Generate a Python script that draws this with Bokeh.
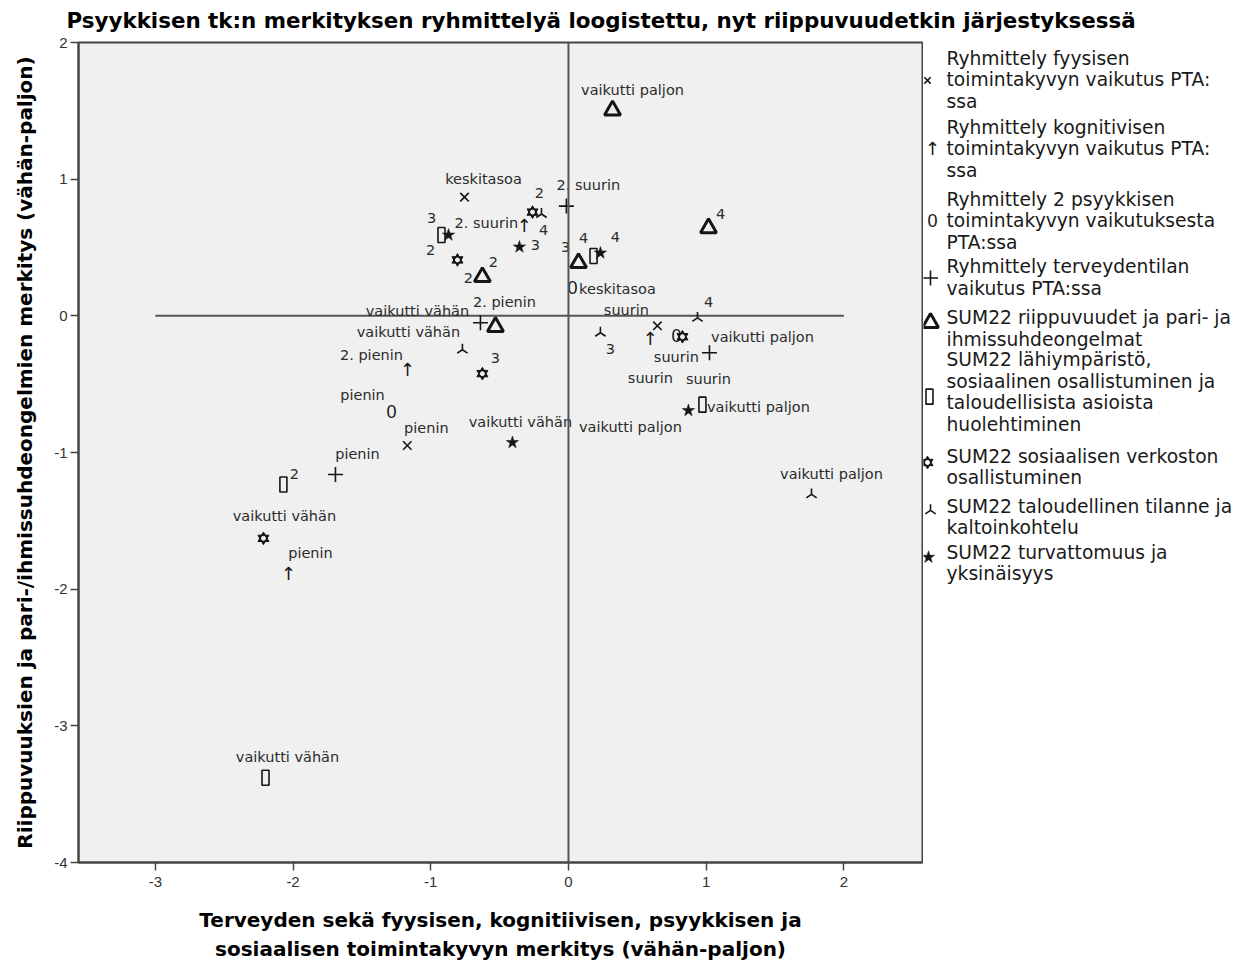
import math
from bokeh.plotting import figure
from bokeh.models import Range1d, FixedTicker, Span, ColumnDataSource, CustomJSTickFormatter, Title
from bokeh.layouts import column, row
from bokeh.embed import file_html
from bokeh.resources import INLINE
from bokeh.core.properties import value

# ---------------- data ----------------
title_text = "Psyykkisen tk:n merkityksen ryhmittelyä loogistettu, nyt riippuvuudetkin järjestyksessä"
x_label_lines = ["Terveyden sekä fyysisen, kognitiivisen, psyykkisen ja",
                 "sosiaalisen toimintakyvyn merkitys (vähän-paljon)"]
y_label = "Riippuvuuksien ja pari-/ihmissuhdeongelmien merkitys (vähän-paljon)"
x_ticks = [-3, -2, -1, 0, 1, 2]
y_ticks = [-4, -3, -2, -1, 0, 1, 2]

legend_texts = [
    ["Ryhmittely fyysisen", "toimintakyvyn vaikutus PTA:", "ssa"],
    ["Ryhmittely kognitivisen", "toimintakyvyn vaikutus PTA:", "ssa"],
    ["Ryhmittely 2 psyykkisen", "toimintakyvyn vaikutuksesta", "PTA:ssa"],
    ["Ryhmittely terveydentilan", "vaikutus PTA:ssa"],
    ["SUM22 riippuvuudet ja pari- ja", "ihmissuhdeongelmat"],
    ["SUM22 lähiympäristö,", "sosiaalinen osallistuminen ja", "taloudellisista asioista", "huolehtiminen"],
    ["SUM22 sosiaalisen verkoston", "osallistuminen"],
    ["SUM22 taloudellinen tilanne ja", "kaltoinkohtelu"],
    ["SUM22 turvattomuus ja", "yksinäisyys"],
]

fyys_labels = ["pienin", "keskitasoa", "suurin"]
fyys_x = [-1.17, -0.755, 0.646]
fyys_y = [-0.949, 0.869, -0.073]

kogn_labels = ["pienin", "2. pienin", "2. suurin", "suurin"]
kogn_x = [-2.033, -1.169, -0.320, 0.595]
kogn_y = [-1.883, -0.394, 0.664, -0.168]

psyk_labels = ["pienin", "keskitasoa", "suurin"]
psyk_x = [-1.285, 0.029, 0.784]
psyk_y = [-0.701, 0.204, -0.146]

terv_labels = ["pienin", "2. pienin", "2. suurin", "suurin"]
terv_x = [-1.692, -0.639, -0.015, 1.024]
terv_y = [-1.161, -0.051, 0.803, -0.270]

sum_labels = ["vaikutti vähän", "2", "3", "4", "vaikutti paljon"]
riip_x = [-0.530, -0.625, 0.073, 1.017, 0.320]
riip_y = [-0.080, 0.285, 0.387, 0.642, 1.504]
lahi_x = [-2.200, -2.070, -0.922, 0.182, 0.973]
lahi_y = [-3.380, -1.234, 0.591, 0.438, -0.650]
sosi_x = [-2.215, -0.806, -0.625, -0.261, 0.828]
sosi_y = [-1.628, 0.409, -0.423, 0.759, -0.153]
talo_x = [-0.770, -0.196, 0.232, 0.937, 1.765]
talo_y = [-0.248, 0.745, -0.124, -0.015, -1.307]
turv_x = [-0.407, -0.871, -0.356, 0.232, 0.871]
turv_y = [-0.927, 0.591, 0.504, 0.460, -0.693]

# ---------------- layout / style (label offsets in screen px, +down) ----------------
label_offsets = {
    "fyys": [(19, -18), (19, -18), (-31, -16)],
    "kogn": [(22, -20), (-36, -15), (-38, -2), (0, 39)],
    "psyk": [(-29, -17), (45, 1), (0, 21)],
    "terv": [(22, -21), (24, -21), (22, -21), (-1, 26)],
    "riip": [(-78, -16), (11, -15), (-13, -16), (12, -14), (20, -20)],
    "lahi": [(22, -21), (11, -10), (-10, -17), (-10, -18), (56, 2)],
    "sosi": [(21, -22), (11, 18), (13, -16), (11, 18), (80, 0)],
    "talo": [(-54, -18), (-2, -21), (10, 16), (11, -16), (20, -20)],
    "turv": [(8, -21), (-18, 15), (16, -2), (15, -16), (-58, 16)],
}

INK = "#151515"
TXT = "#2b2b2b"
BG = "#f0f0f0"
FONT = "DejaVu Sans"

series = [
    ("fyys", fyys_x, fyys_y, fyys_labels),
    ("kogn", kogn_x, kogn_y, kogn_labels),
    ("psyk", psyk_x, psyk_y, psyk_labels),
    ("terv", terv_x, terv_y, terv_labels),
    ("riip", riip_x, riip_y, sum_labels),
    ("lahi", lahi_x, lahi_y, sum_labels),
    ("sosi", sosi_x, sosi_y, sum_labels),
    ("talo", talo_x, talo_y, sum_labels),
    ("turv", turv_x, turv_y, sum_labels),
]


def draw_marker(fig, kind, xs, ys, bg, scale=1.0):
    if kind == "fyys":
        fig.scatter(xs, ys, marker="x", size=12 * scale, line_color=INK, line_width=1.6)
    elif kind == "kogn":
        fig.text(xs, ys, text=["↑"] * len(xs), text_font=value(FONT), text_font_size="18px",
                 text_align="center", text_baseline="middle", text_color=INK)
    elif kind == "psyk":
        fig.text(xs, ys, text=["0"] * len(xs), text_font=value("Liberation Sans"), text_font_size="18px",
                 text_align="center", text_baseline="middle", text_color=INK)
    elif kind == "terv":
        fig.scatter(xs, ys, marker="cross", size=15, line_color=INK, line_width=1.6)
    elif kind == "riip":
        fig.scatter(xs, ys, marker="triangle", size=16, line_color=INK, line_width=3, fill_alpha=0)
    elif kind == "lahi":
        fig.rect(xs, ys, width=7, height=15, width_units="screen", height_units="screen",
                 fill_alpha=0, line_color=INK, line_width=1.6)
    elif kind == "sosi":
        fig.scatter(xs, ys, marker="triangle", size=11, fill_color=INK, line_color=INK, line_width=1)
        fig.scatter(xs, ys, marker="inverted_triangle", size=11, fill_color=INK, line_color=INK, line_width=1)
        fig.scatter(xs, ys, marker="circle", size=4, fill_color=bg, line_color=bg)
    elif kind == "talo":
        fig.scatter(xs, ys, marker="y", size=12, angle=math.pi, line_color=INK, line_width=1.6)
    elif kind == "turv":
        fig.scatter(xs, ys, marker="star", size=13, fill_color=INK, line_color=INK, line_width=0.5)


TOTAL_W = 1243
TITLE_H = 34
MAIN_W = 923
MAIN_H = 926
BORDER_L, BORDER_R, BORDER_T, BORDER_B = 78, 1, 8, 96

# ---------------- title strip ----------------
tfig = figure(width=TOTAL_W, height=TITLE_H, x_range=Range1d(0, TOTAL_W), y_range=Range1d(TITLE_H, 0),
              output_backend="svg", toolbar_location=None, min_border=0, outline_line_color=None)
tfig.axis.visible = False
tfig.grid.visible = False
tfig.text(x=[66], y=[20], text=[title_text], text_font=value(FONT), text_font_style="bold",
          text_font_size="21.4px", text_align="left", text_baseline="middle", text_color="black")

# ---------------- main chart ----------------
p = figure(width=MAIN_W, height=MAIN_H, x_range=Range1d(-3.558, 2.571), y_range=Range1d(-4, 2),
           output_backend="svg", toolbar_location=None,
           min_border_left=BORDER_L, min_border_right=BORDER_R,
           min_border_top=BORDER_T, min_border_bottom=BORDER_B)
p.background_fill_color = BG
p.border_fill_color = "white"
p.outline_line_color = "#444444"
p.outline_line_width = 2
p.grid.visible = False

p.xaxis.ticker = FixedTicker(ticks=x_ticks)
p.yaxis.ticker = FixedTicker(ticks=y_ticks)
for ax in (p.xaxis, p.yaxis):
    ax.formatter = CustomJSTickFormatter(code="return tick.toString();")
    ax.axis_line_color = "#444444"
    ax.axis_line_width = 2
    ax.major_tick_out = 8
    ax.major_tick_in = 0
    ax.major_tick_line_color = "#444444"
    ax.major_tick_line_width = 1.5
    ax.minor_tick_line_color = None
    ax.major_label_text_font = "Liberation Sans"
    ax.major_label_text_font_size = "15px"
    ax.major_label_text_color = "#333333"
    ax.axis_label_text_font = FONT
    ax.axis_label_text_font_style = "bold"
    ax.axis_label_text_font_size = "20px"
    ax.axis_label_text_color = "black"
p.yaxis.axis_label = y_label
p.xaxis.major_label_standoff = 6
p.yaxis.major_label_standoff = 3
p.yaxis.axis_label_standoff = 14
# spacer below x tick labels
p.xaxis.axis_label = " "
p.xaxis.axis_label_text_font_size = "10px"
p.xaxis.axis_label_standoff = 0

# x-axis label, two centred lines below the axis
for k, line in enumerate(x_label_lines):
    p.add_layout(Title(text=line, align="center", text_font=FONT, text_font_style="bold",
                       text_font_size="20px", text_color="black",
                       standoff=5 if k == 0 else 0, offset=0), "below")

# reference lines
p.line([x_ticks[0], x_ticks[-1]], [0, 0], line_color="#555555", line_width=2)
p.add_layout(Span(location=0, dimension="height", line_color="#555555", line_width=2))

for key, xs, ys, labs in series:
    draw_marker(p, key, xs, ys, BG)
    offs = label_offsets[key]
    src = ColumnDataSource(dict(x=xs, y=ys, t=labs, dx=[o[0] for o in offs], dy=[o[1] for o in offs]))
    p.text("x", "y", text="t", x_offset="dx", y_offset="dy", source=src,
           text_font=value(FONT), text_font_size="14.5px", text_color=TXT,
           text_align="center", text_baseline="middle")

# ---------------- legend column (coordinates = page pixels) ----------------
legend_first_line_y = [58, 127, 199, 267, 318, 360, 457, 507, 553]
legend_marker_y = [80, 148, 220, 278, 323, 397, 463, 511, 558]
legend_marker_x = [927, 932, 932, 930, 930, 929, 927, 930, 928]
legend_text_x = 946
line_step = 21.5

LEG_W = TOTAL_W - MAIN_W
frame_top = TITLE_H + BORDER_T
frame_bottom = TITLE_H + MAIN_H - BORDER_B
lfig = figure(width=LEG_W, height=MAIN_H, x_range=Range1d(MAIN_W, TOTAL_W),
              y_range=Range1d(frame_bottom, frame_top),
              output_backend="svg", toolbar_location=None, outline_line_color=None,
              min_border_left=0, min_border_right=0, min_border_top=BORDER_T, min_border_bottom=BORDER_B)
lfig.axis.visible = False
lfig.grid.visible = False
for i, (key, _, _, _) in enumerate(series):
    draw_marker(lfig, key, [legend_marker_x[i]], [legend_marker_y[i]], "white", scale=0.75)
    lines = legend_texts[i]
    lfig.text([legend_text_x] * len(lines),
              [legend_first_line_y[i] + k * line_step for k in range(len(lines))],
              text=lines, text_font=value(FONT), text_font_size="18.7px", text_color="#1a1a1a",
              text_align="left", text_baseline="middle")

layout = column(tfig, row(p, lfig, spacing=0), spacing=0)
open("out.html", "w").write(file_html(layout, INLINE))
